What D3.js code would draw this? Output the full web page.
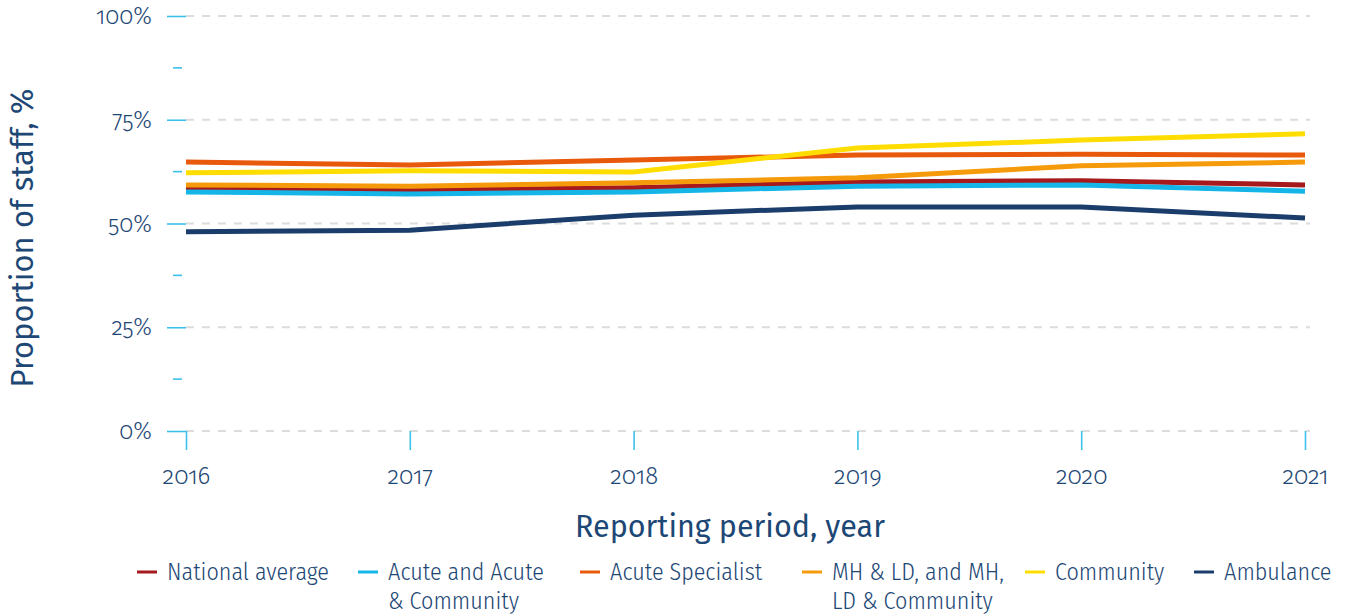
<!DOCTYPE html>
<html><head><meta charset="utf-8">
<script src="https://cdn.jsdelivr.net/npm/d3@7"></script>
<style>
body{margin:0;background:#fff;}
text{font-family:"Fira Sans","Noto Sans",sans-serif;fill:#1d4775;}
.tick text{font-family:"Fira Sans","Noto Sans",sans-serif;font-weight:300;font-feature-settings:"onum" 1;font-variant-numeric:oldstyle-nums;}
.leg text{font-family:"Fira Sans Condensed","Fira Sans",sans-serif;font-weight:300;}
</style></head><body>
<svg id="c" width="1349" height="614"></svg>
<script>
const years = [2016, 2017, 2018, 2019, 2020, 2021];
const seriesNames = ["National average", "Acute and Acute & Community", "Acute Specialist", "MH & LD, and MH, LD & Community", "Community", "Ambulance"];
const legendLabels = [["National average"], ["Acute and Acute", "& Community"], ["Acute Specialist"], ["MH & LD, and MH,", "LD & Community"], ["Community"], ["Ambulance"]];
const nationalAverage = [58.4, 58.1, 58.6, 60.0, 60.3, 59.3];
const acute = [57.6, 57.1, 57.6, 59.0, 59.3, 57.8];
const acuteSpecialist = [64.8, 64.1, 65.3, 66.5, 66.7, 66.5];
const mhld = [59.3, 59.0, 59.8, 61.0, 63.9, 64.8];
const community = [62.2, 62.7, 62.4, 68.2, 70.1, 71.6];
const ambulance = [48.0, 48.4, 52.0, 54.0, 54.0, 51.3];
const yTicks = [0, 25, 50, 75, 100];
const yMinorTicks = [12.5, 37.5, 62.5, 87.5];
const colors = ["#a6191c", "#15b5e8", "#e8590c", "#f59a0a", "#ffdd00", "#1a3d6b"];
const allSeries = [nationalAverage, acute, acuteSpecialist, mhld, community, ambulance];

const svg = d3.select("#c");
const x = d3.scalePoint().domain(years).range([186, 1305]);
const y = d3.scaleLinear().domain([0, 100]).range([431, 16]);
const tickBlue = "#3cc0ec";

// gridlines
svg.append("g").selectAll("line").data(yTicks).join("line")
  .attr("x1", 186).attr("x2", 1310).attr("y1", d => y(d)).attr("y2", d => y(d))
  .attr("stroke", "#dcdcdc").attr("stroke-width", 2).attr("stroke-dasharray", "8,8");

// y axis
const yAxis = svg.append("g").attr("transform", "translate(186,0)")
  .call(d3.axisLeft(y).tickValues(yTicks).tickFormat(d => d + "%").tickSize(19).tickPadding(15));
yAxis.select(".domain").remove();
yAxis.selectAll(".tick line").attr("stroke", tickBlue).attr("stroke-width", 1.6);
yAxis.selectAll(".tick text").attr("font-size", 23.5).attr("fill", "#1d4775").attr("dy", "0.32em");
svg.append("g").selectAll("line").data(yMinorTicks).join("line")
  .attr("x1", 173).attr("x2", 182).attr("y1", d => y(d)).attr("y2", d => y(d))
  .attr("stroke", tickBlue).attr("stroke-width", 1.6);

// x axis
const xAxis = svg.append("g").attr("transform", "translate(0,431)")
  .call(d3.axisBottom(x).tickSize(19).tickPadding(14));
xAxis.select(".domain").remove();
xAxis.selectAll(".tick line").attr("stroke", tickBlue).attr("stroke-width", 1.6);
xAxis.selectAll(".tick text").attr("font-size", 24).attr("fill", "#1d4775").attr("dy", "0.85em");

// lines
const line = d3.line().x((d, i) => x(years[i])).y(d => y(d));
svg.append("g").selectAll("path").data(allSeries).join("path")
  .attr("d", d => line(d)).attr("fill", "none")
  .attr("stroke", (d, i) => colors[i]).attr("stroke-width", 5);

// axis titles
svg.append("text").attr("x", 730).attr("y", 537).attr("text-anchor", "middle")
  .attr("font-size", 30.5).text("Reporting period, year");
svg.append("text").attr("transform", "translate(33,238) rotate(-90)").attr("text-anchor", "middle")
  .attr("font-size", 31).text("Proportion of staff, %");

// legend
const legendX = [137, 358, 580, 802, 1025, 1194];
const lg = svg.append("g").attr("class", "leg").selectAll("g").data(legendLabels).join("g")
  .attr("transform", (d, i) => `translate(${legendX[i]},572)`);
lg.append("line").attr("x1", 0).attr("x2", 20).attr("y1", 0).attr("y2", 0)
  .attr("stroke", (d, i) => colors[i]).attr("stroke-width", 3);
lg.append("text").attr("x", 30).attr("y", 0).attr("font-size", 24)
  .selectAll("tspan").data(d => d).join("tspan").attr("x", 30).attr("dy", (d, j) => j === 0 ? "0.35em" : "1.2em").text(d => d);
</script></body></html>
